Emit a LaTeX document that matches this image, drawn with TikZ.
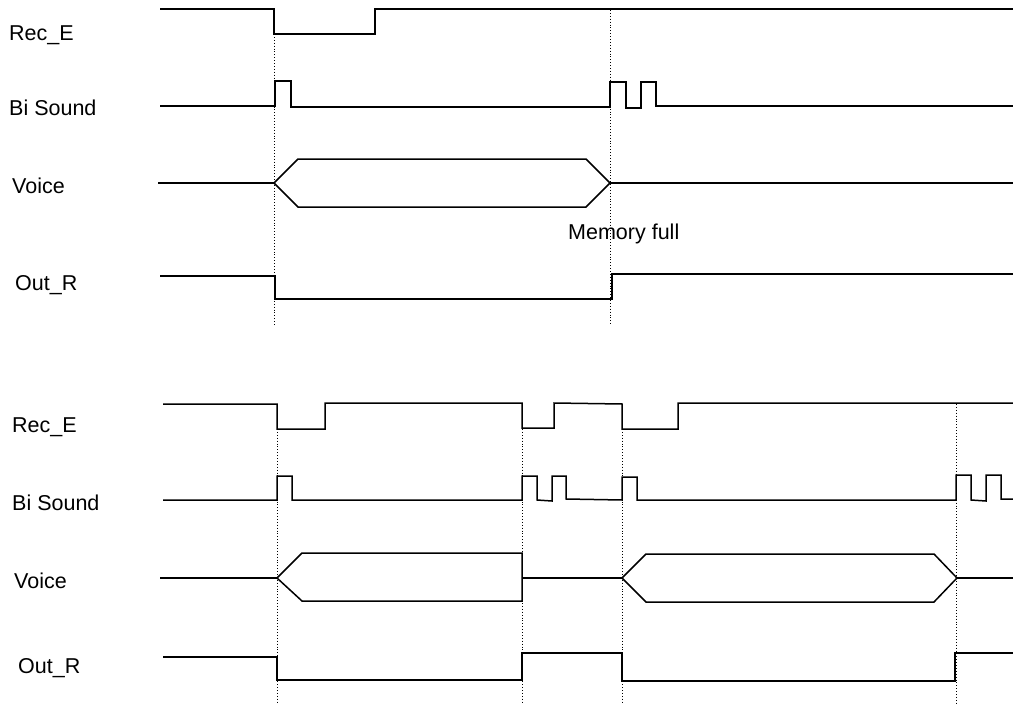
\documentclass[tikz,border=0pt]{standalone}
\usepackage{fontspec}
\setmainfont{Liberation Sans}
\usepackage{tikz}
\usetikzlibrary{calc}
\tikzset{wave/.style={black, line width=1.5pt, line join=miter},
guide/.style={black, dotted, line width=0.9pt},
signame/.style={anchor=base west, inner sep=0pt, font=\fontsize{21.5}{24}\selectfont}}

\begin{document}
\begin{tikzpicture}[x=1pt,y=-1pt]
    \useasboundingbox (0,0) rectangle (1013,704);

    %Names
    \node[signame] (recA) at (9,40) {Rec\_E};
    \node[signame] (biA) at (9,115) {Bi Sound};
    \node[signame] (voiceA) at (12,193) {Voice};
    \node[signame] (outA) at (15,290) {Out\_R};
    \node[signame] (full) at (568,239) {Memory full};

    \node[signame] (recB) at (12,432) {Rec\_E};
    \node[signame] (biB) at (12,510) {Bi Sound};
    \node[signame] (voiceB) at (14,588) {Voice};
    \node[signame] (outB) at (18,673) {Out\_R};

    % Top
    \draw[guide] (274,34) -- (274,326);
    \draw[guide] (610,10) -- (610,326);

    \draw[wave] (160,9) -- (274,9) -- (274,34) -- (375,34) -- (375,9) -- (1013,9);

    \draw[wave] (160,106) -- (275,106) -- (275,81) -- (291,81) -- (291,107) -- (610,107)
        -- (610,82) -- (626,82) -- (626,108) -- (641,108) -- (641,82) -- (656,82) -- (656,106) -- (1013,106);

    \draw[wave] (158,183) -- (274,183);
    \draw[wave] (274,183) -- (298,159) -- (586,159) -- (610,183) -- (586,207) -- (298,207) -- cycle;
    \draw[wave] (610,183) -- (1013,183);

    \draw[wave] (160,276) -- (275,276) -- (275,299) -- (612,299) -- (612,274) -- (1013,274);

    % Bottom
    \draw[guide] (277,429) -- (277,704);
    \draw[guide] (522,429) -- (522,704);
    \draw[guide] (622,429) -- (622,704);
    \draw[guide] (956,404) -- (956,704);

    \draw[wave] (163,404) -- (277,404) -- (277,429) -- (325,429) -- (325,403) -- (522,403) -- (522,428)
        -- (554,428) -- (554,403) -- (622,404) -- (622,429) -- (678,429) -- (678,403) -- (1013,403);

    \draw[wave] (163,500) -- (277,500) -- (277,476) -- (292,476) -- (292,500) -- (522,500)
        -- (522,476) -- (537,476) -- (537,500) -- (552,501) -- (552,476) -- (566,476) -- (566,499) -- (622,500)
        -- (622,477) -- (637,477) -- (637,500) -- (956,500)
        -- (956,475) -- (971,475) -- (971,500) -- (986,501) -- (986,475) -- (1001,475) -- (1001,499) -- (1013,499);

    \draw[wave] (160,578) -- (277,578);
    \draw[wave] (277,578) -- (302,553) -- (522,553) -- (522,601) -- (302,601) -- cycle;
    \draw[wave] (522,578) -- (622,578);
    \draw[wave] (622,578) -- (646,554) -- (934,554) -- (957,578) -- (934,602) -- (646,602) -- cycle;
    \draw[wave] (957,578) -- (1013,578);

    \draw[wave] (163,657) -- (277,657) -- (277,680) -- (522,680) -- (522,653) -- (622,653)
        -- (622,681) -- (955,681) -- (955,653) -- (1013,653);
\end{tikzpicture}
\end{document}
